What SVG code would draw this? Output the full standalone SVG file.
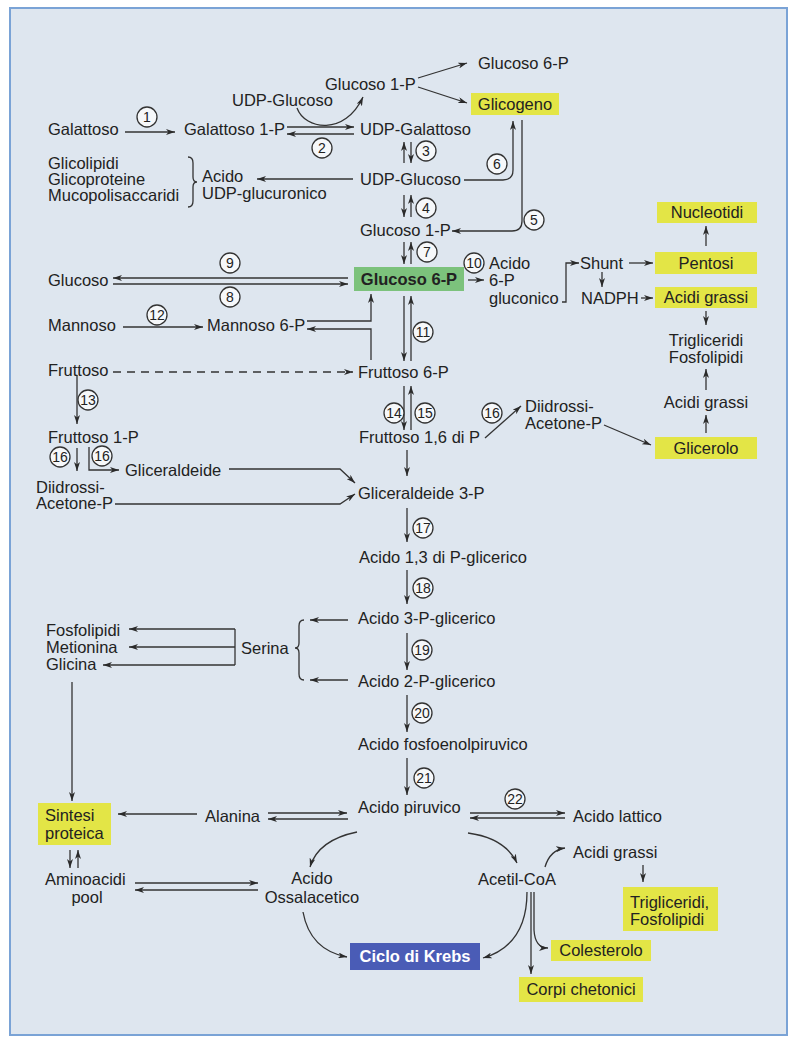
<svg xmlns="http://www.w3.org/2000/svg" width="800" height="1047" viewBox="0 0 800 1047">
<defs>
<marker id="ah" viewBox="0 0 9 6" refX="9" refY="3" markerWidth="9" markerHeight="6" markerUnits="userSpaceOnUse" orient="auto"><path d="M0,0 L9,3 L0,6 L2.5,3 z" fill="#2a2a2a"/></marker>
<style>
text{font-family:"Liberation Sans",Arial,sans-serif;font-size:16.5px;fill:#222}
.c{text-anchor:middle}
.b{font-weight:bold}
.w{fill:#fff}
.ln{fill:none;stroke:#333;stroke-width:1.3}
.ar{fill:none;stroke:#333;stroke-width:1.3;marker-end:url(#ah)}
.dash{stroke-dasharray:8 6}
.num circle{fill:#f6f8fa;stroke:#333;stroke-width:1.3}
.num text{font-size:14px;text-anchor:middle}
.y{fill:#e3e546}
.g{fill:#7cc27c}
.bl{fill:#4a5cb6}
</style>
</defs>
<rect x="0" y="0" width="800" height="1047" fill="#ffffff"/>
<rect x="10" y="8" width="777" height="1027" fill="#dee6ef" stroke="#7aa3d6" stroke-width="2"/>

<g id="connectors">
<line class="ar" x1="125" y1="132" x2="175" y2="132"/>
<line class="ar" x1="287" y1="127" x2="354" y2="127"/>
<line class="ar" x1="354" y1="134" x2="287" y2="134"/>
<path class="ar" d="M297,108 C305,130 345,136 363,97"/>
<line class="ar" x1="418" y1="78" x2="467" y2="63"/>
<line class="ar" x1="418" y1="87" x2="467" y2="103"/>
<line class="ar" x1="404" y1="163" x2="404" y2="142"/>
<line class="ar" x1="411" y1="142" x2="411" y2="163"/>
<line class="ar" x1="353" y1="179" x2="257" y2="179"/>
<path class="ar" d="M464,180 L503,180 Q513,180 513,170 L513,121"/>
<path class="ar" d="M522,120 L522,221 Q522,231 512,231 L452,231"/>
<line class="ar" x1="404" y1="195" x2="404" y2="217"/>
<line class="ar" x1="411" y1="217" x2="411" y2="195"/>
<line class="ar" x1="404" y1="242" x2="404" y2="264"/>
<line class="ar" x1="411" y1="264" x2="411" y2="242"/>
<line class="ar" x1="348" y1="278" x2="113" y2="278"/>
<line class="ar" x1="113" y1="284" x2="348" y2="284"/>
<line class="ar" x1="468" y1="280" x2="484" y2="280"/>
<path class="ar" d="M562,302 L566,302 L566,263 L579,263"/>
<line class="ar" x1="629" y1="263" x2="653" y2="263"/>
<line class="ar" x1="602" y1="272" x2="602" y2="287"/>
<line class="ar" x1="641" y1="298" x2="653" y2="298"/>
<line class="ar" x1="706" y1="246" x2="706" y2="226"/>
<line class="ar" x1="706" y1="311" x2="706" y2="325"/>
<line class="ar" x1="706" y1="390" x2="706" y2="369"/>
<line class="ar" x1="706" y1="433" x2="706" y2="415"/>
<line class="ar" x1="604" y1="425" x2="651" y2="445"/>
<line class="ar" x1="485" y1="438" x2="521" y2="406"/>
<line class="ar" x1="123" y1="327" x2="203" y2="327"/>
<path class="ar" d="M307,321 L371,321 L371,294"/>
<path class="ar" d="M371,360 L371,329 L307,329"/>
<line class="ar" x1="404" y1="296" x2="404" y2="361"/>
<line class="ar" x1="411" y1="361" x2="411" y2="296"/>
<line class="ar dash" x1="113" y1="372" x2="353" y2="372"/>
<line class="ar" x1="404" y1="386" x2="404" y2="430"/>
<line class="ar" x1="411" y1="430" x2="411" y2="386"/>
<line class="ar" x1="407" y1="450" x2="407" y2="476"/>
<line class="ar" x1="77" y1="375" x2="77" y2="424"/>
<line class="ar" x1="77" y1="448" x2="77" y2="471"/>
<path class="ar" d="M89,447 L89,470 L119,470"/>
<path class="ar" d="M229,469 L340,469 L355,483"/>
<path class="ar" d="M115,504 L340,504 L355,494"/>
<line class="ar" x1="407" y1="508" x2="407" y2="542"/>
<line class="ar" x1="407" y1="570" x2="407" y2="604"/>
<line class="ar" x1="407" y1="633" x2="407" y2="670"/>
<line class="ar" x1="407" y1="695" x2="407" y2="732"/>
<line class="ar" x1="407" y1="758" x2="407" y2="795"/>
<line class="ar" x1="348" y1="620" x2="310" y2="620"/>
<line class="ar" x1="348" y1="680" x2="310" y2="680"/>
<path class="ln" d="M304,620 Q299,620 299,626 L299,643 Q299,648 295,648 Q299,648 299,653 L299,674 Q299,680 304,680"/>
<path class="ln" d="M188,157 Q193,157 193,163 L193,177 Q193,182 197,182 Q193,182 193,187 L193,201 Q193,207 188,207"/>
<line class="ln" x1="235" y1="629" x2="235" y2="665"/>
<line class="ar" x1="235" y1="629" x2="129" y2="629"/>
<line class="ar" x1="235" y1="647" x2="129" y2="647"/>
<line class="ar" x1="235" y1="665" x2="103" y2="665"/>
<line class="ar" x1="72" y1="682" x2="72" y2="801"/>
<line class="ar" x1="197" y1="814" x2="118" y2="814"/>
<line class="ar" x1="268" y1="813" x2="347" y2="813"/>
<line class="ar" x1="348" y1="819" x2="268" y2="819"/>
<line class="ar" x1="70" y1="850" x2="70" y2="868"/>
<line class="ar" x1="78" y1="868" x2="78" y2="850"/>
<line class="ar" x1="135" y1="883" x2="258" y2="883"/>
<line class="ar" x1="258" y1="890" x2="135" y2="890"/>
<path class="ar" d="M357,832 Q318,840 310,867"/>
<path class="ar" d="M303,912 Q310,950 347,957"/>
<line class="ar" x1="470" y1="813" x2="565" y2="813"/>
<line class="ar" x1="565" y1="818" x2="470" y2="818"/>
<path class="ar" d="M468,833 Q505,838 517,863"/>
<path class="ar" d="M545,867 Q550,850 565,848"/>
<line class="ar" x1="643" y1="865" x2="643" y2="882"/>
<path class="ar" d="M527,892 Q527,945 483,958"/>
<line class="ar" x1="531" y1="892" x2="531" y2="974"/>
<path class="ar" d="M534,892 L534,930 Q535,948 548,948"/>
</g>

<g id="labels">
<g class="num"><circle cx="147" cy="117" r="10"/><text x="147" y="122">1</text></g>
<g class="num"><circle cx="322" cy="148" r="10"/><text x="322" y="153">2</text></g>
<g class="num"><circle cx="426" cy="151" r="10"/><text x="426" y="156">3</text></g>
<g class="num"><circle cx="426" cy="208" r="10"/><text x="426" y="213">4</text></g>
<g class="num"><circle cx="534" cy="220" r="10"/><text x="534" y="225">5</text></g>
<g class="num"><circle cx="497" cy="164" r="10"/><text x="497" y="169">6</text></g>
<g class="num"><circle cx="427" cy="252" r="10"/><text x="427" y="257">7</text></g>
<g class="num"><circle cx="230" cy="297" r="10"/><text x="230" y="302">8</text></g>
<g class="num"><circle cx="230" cy="263" r="10"/><text x="230" y="268">9</text></g>
<g class="num"><circle cx="474" cy="263" r="10"/><text x="474" y="268">10</text></g>
<g class="num"><circle cx="423" cy="332" r="10"/><text x="423" y="337">11</text></g>
<g class="num"><circle cx="157" cy="315" r="10"/><text x="157" y="320">12</text></g>
<g class="num"><circle cx="88" cy="400" r="10"/><text x="88" y="405">13</text></g>
<g class="num"><circle cx="394" cy="413" r="10"/><text x="394" y="418">14</text></g>
<g class="num"><circle cx="425" cy="413" r="10"/><text x="425" y="418">15</text></g>
<g class="num"><circle cx="492" cy="413" r="10"/><text x="492" y="418">16</text></g>
<g class="num"><circle cx="60" cy="457" r="10"/><text x="60" y="462">16</text></g>
<g class="num"><circle cx="102" cy="456" r="10"/><text x="102" y="461">16</text></g>
<g class="num"><circle cx="423" cy="528" r="10"/><text x="423" y="533">17</text></g>
<g class="num"><circle cx="423" cy="588" r="10"/><text x="423" y="593">18</text></g>
<g class="num"><circle cx="422" cy="650" r="10"/><text x="422" y="655">19</text></g>
<g class="num"><circle cx="422" cy="713" r="10"/><text x="422" y="718">20</text></g>
<g class="num"><circle cx="424" cy="778" r="10"/><text x="424" y="783">21</text></g>
<g class="num"><circle cx="515" cy="799" r="10"/><text x="515" y="804">22</text></g>
</g>

<g id="n-glucoso1p-top"><text x="325" y="90">Glucoso 1-P</text></g>
<g id="n-udpglucoso-top"><text x="232" y="106">UDP-Glucoso</text></g>
<g id="n-glucoso6p-top"><text x="478" y="69">Glucoso 6-P</text></g>
<g id="n-glicogeno"><rect class="y" x="471" y="93" width="88" height="22"/><text class="c" x="515" y="110">Glicogeno</text></g>
<g id="n-galattoso"><text x="48" y="135">Galattoso</text></g>
<g id="n-galattoso1p"><text x="184" y="135">Galattoso 1-P</text></g>
<g id="n-udpgalattoso"><text x="360" y="135">UDP-Galattoso</text></g>
<g id="n-glicolipidi"><text x="48" y="169">Glicolipidi</text><text x="48" y="185">Glicoproteine</text><text x="48" y="201">Mucopolisaccaridi</text></g>
<g id="n-udpglucuronico"><text x="202" y="182">Acido</text><text x="202" y="199">UDP-glucuronico</text></g>
<g id="n-udpglucoso"><text x="360" y="185">UDP-Glucoso</text></g>
<g id="n-glucoso1p"><text x="360" y="236">Glucoso 1-P</text></g>
<g id="n-glucoso6p"><rect class="g" x="354" y="267" width="110" height="24"/><text class="c b" x="409" y="285">Glucoso 6-P</text></g>
<g id="n-glucoso"><text x="48" y="286">Glucoso</text></g>
<g id="n-acido6p"><text x="489" y="269">Acido</text><text x="489" y="286">6-P</text><text x="489" y="304">gluconico</text></g>
<g id="n-shunt"><text x="580" y="269">Shunt</text></g>
<g id="n-nadph"><text x="581" y="304">NADPH</text></g>
<g id="n-nucleotidi"><rect class="y" x="657" y="202" width="100" height="21"/><text class="c" x="707" y="218">Nucleotidi</text></g>
<g id="n-pentosi"><rect class="y" x="655" y="252" width="102" height="22"/><text class="c" x="706" y="269">Pentosi</text></g>
<g id="n-acidigrassi-box"><rect class="y" x="655" y="287" width="102" height="21"/><text class="c" x="706" y="303">Acidi grassi</text></g>
<g id="n-trigliceridi"><text class="c" x="706" y="346">Trigliceridi</text><text class="c" x="706" y="363">Fosfolipidi</text></g>
<g id="n-acidigrassi"><text class="c" x="706" y="408">Acidi grassi</text></g>
<g id="n-glicerolo"><rect class="y" x="655" y="437" width="102" height="22"/><text class="c" x="706" y="454">Glicerolo</text></g>
<g id="n-mannoso"><text x="48" y="331">Mannoso</text></g>
<g id="n-mannoso6p"><text x="207" y="331">Mannoso 6-P</text></g>
<g id="n-fruttoso"><text x="48" y="376">Fruttoso</text></g>
<g id="n-fruttoso6p"><text x="358" y="378">Fruttoso 6-P</text></g>
<g id="n-fruttoso1p"><text x="48" y="443">Fruttoso 1-P</text></g>
<g id="n-gliceraldeide"><text x="125" y="476">Gliceraldeide</text></g>
<g id="n-dhap-left"><text x="36" y="493">Diidrossi-</text><text x="36" y="509">Acetone-P</text></g>
<g id="n-fruttoso16"><text x="359" y="443">Fruttoso 1,6 di P</text></g>
<g id="n-dhap-right"><text x="525" y="412">Diidrossi-</text><text x="525" y="429">Acetone-P</text></g>
<g id="n-gliceraldeide3p"><text x="358" y="499">Gliceraldeide 3-P</text></g>
<g id="n-13dpg"><text x="359" y="563">Acido 1,3 di P-glicerico</text></g>
<g id="n-3pg"><text x="358" y="624">Acido 3-P-glicerico</text></g>
<g id="n-2pg"><text x="358" y="687">Acido 2-P-glicerico</text></g>
<g id="n-pep"><text x="358" y="750">Acido fosfoenolpiruvico</text></g>
<g id="n-piruvico"><text x="358" y="813">Acido piruvico</text></g>
<g id="n-lattico"><text x="573" y="822">Acido lattico</text></g>
<g id="n-acidigrassi2"><text x="573" y="858">Acidi grassi</text></g>
<g id="n-acetilcoa"><text x="478" y="885">Acetil-CoA</text></g>
<g id="n-trigliceridi2"><rect class="y" x="623" y="887" width="95" height="44"/><text x="630" y="908">Trigliceridi,</text><text x="630" y="925">Fosfolipidi</text></g>
<g id="n-colesterolo"><rect class="y" x="551" y="940" width="100" height="21"/><text class="c" x="601" y="956">Colesterolo</text></g>
<g id="n-corpi"><rect class="y" x="519" y="977" width="124" height="25"/><text class="c" x="581" y="995">Corpi chetonici</text></g>
<g id="n-krebs"><rect class="bl" x="350" y="943" width="130" height="27"/><text class="c b w" x="415" y="962">Ciclo di Krebs</text></g>
<g id="n-alanina"><text x="205" y="822">Alanina</text></g>
<g id="n-sintesi"><rect class="y" x="38" y="803" width="73" height="42"/><text x="45" y="821">Sintesi</text><text x="45" y="839">proteica</text></g>
<g id="n-aminoacidi"><text x="45" y="885">Aminoacidi</text><text class="c" x="87" y="903">pool</text></g>
<g id="n-ossalacetico"><text class="c" x="312" y="884">Acido</text><text class="c" x="312" y="903">Ossalacetico</text></g>
<g id="n-serina-targets"><text x="46" y="636">Fosfolipidi</text><text x="46" y="653">Metionina</text><text x="46" y="670">Glicina</text></g>
<g id="n-serina"><text x="241" y="654">Serina</text></g>
</svg>
